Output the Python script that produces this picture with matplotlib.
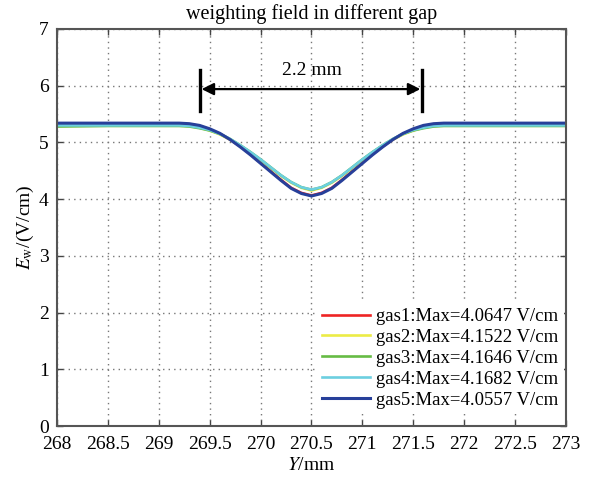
import matplotlib
matplotlib.use('Agg')
import matplotlib.pyplot as plt

plt.rcParams['font.family'] = ['Liberation Serif', 'DejaVu Serif']
plt.rcParams['mathtext.fontset'] = 'stix'

# Field along Y for each gas (V/cm)
y_pos = [268.0, 268.5, 269.0,
         269.2, 269.3, 269.4, 269.5, 269.6, 269.7, 269.8, 269.9, 270.0,
         270.1, 270.2, 270.3, 270.4, 270.5, 270.6, 270.7, 270.8, 270.9,
         271.0, 271.1, 271.2, 271.3, 271.4, 271.5, 271.6, 271.7, 271.8,
         272.0, 272.5, 273.0]

gas1 = [5.33, 5.33, 5.33,
        5.33, 5.32, 5.29, 5.23, 5.15, 5.05, 4.93, 4.79, 4.64,
        4.49, 4.34, 4.20, 4.11, 4.0647, 4.11, 4.20, 4.34, 4.49,
        4.64, 4.79, 4.93, 5.05, 5.15, 5.23, 5.29, 5.32, 5.33,
        5.33, 5.33, 5.33]
gas2 = [5.30, 5.30, 5.30,
        5.30, 5.29, 5.26, 5.21, 5.14, 5.05, 4.94, 4.82, 4.69,
        4.55, 4.41, 4.29, 4.20, 4.1522, 4.20, 4.29, 4.41, 4.55,
        4.69, 4.82, 4.94, 5.05, 5.14, 5.21, 5.26, 5.29, 5.30,
        5.30, 5.30, 5.30]
gas3 = [5.28, 5.29, 5.29,
        5.29, 5.28, 5.25, 5.21, 5.15, 5.06, 4.95, 4.83, 4.70,
        4.56, 4.42, 4.30, 4.21, 4.1646, 4.21, 4.30, 4.42, 4.56,
        4.70, 4.83, 4.95, 5.06, 5.15, 5.21, 5.25, 5.28, 5.29,
        5.29, 5.29, 5.29]
gas4 = [5.30, 5.30, 5.30,
        5.30, 5.29, 5.26, 5.22, 5.15, 5.06, 4.95, 4.83, 4.70,
        4.56, 4.42, 4.30, 4.21, 4.1682, 4.21, 4.30, 4.42, 4.56,
        4.70, 4.83, 4.95, 5.06, 5.15, 5.22, 5.26, 5.29, 5.30,
        5.30, 5.30, 5.30]
gas5 = [5.34, 5.34, 5.34,
        5.34, 5.33, 5.30, 5.24, 5.16, 5.05, 4.92, 4.78, 4.63,
        4.48, 4.33, 4.19, 4.10, 4.0557, 4.10, 4.19, 4.33, 4.48,
        4.63, 4.78, 4.92, 5.05, 5.16, 5.24, 5.30, 5.33, 5.34,
        5.34, 5.34, 5.34]

labels = ['gas1:Max=4.0647 V/cm', 'gas2:Max=4.1522 V/cm',
          'gas3:Max=4.1646 V/cm', 'gas4:Max=4.1682 V/cm',
          'gas5:Max=4.0557 V/cm']
colors = ['#ee2424', '#ecec46', '#66bb44', '#6ccfe0', '#27409a']

x_ticks = [268, 268.5, 269, 269.5, 270, 270.5, 271, 271.5, 272, 272.5, 273]

fig = plt.figure(figsize=(5.95, 4.83), dpi=100)
ax = fig.add_axes([0.096, 0.118, 0.855, 0.822])

for ys, lab, c in zip([gas1, gas2, gas3, gas4, gas5], labels, colors):
    lw = 2.2 if c == colors[-1] else 1.9
    ax.plot(y_pos, ys, color=c, lw=lw, label=lab, solid_joinstyle='round')

ax.set_xlim(268, 273)
ax.set_ylim(0, 7)
ax.set_xticks(x_ticks)
ax.set_xticklabels([f'{t:g}' for t in x_ticks])
ax.set_yticks(range(8))
ax.tick_params(direction='in', length=4, width=1, top=True, right=True,
               labelsize=14, color='#444444')
ax.tick_params(axis='x', pad=7)
ax.tick_params(axis='y', pad=6)
for s in ax.spines.values():
    s.set_linewidth(1.5)
    s.set_color('#555555')
ax.grid(True, linestyle=(0, (1, 3)), color='#777777', lw=1.0)

ax.set_title('weighting field in different gap', fontsize=14.5, pad=7)
ax.set_xlabel(r'$Y$/mm', fontsize=14, labelpad=3)
ax.set_ylabel(r'$E_{\rm w}$/(V/cm)', fontsize=14, labelpad=2)

# gap width marker
ax.plot([269.40, 269.40], [5.55, 6.28], color='black', lw=2.4)
ax.plot([271.59, 271.59], [5.55, 6.28], color='black', lw=2.4)
ax.annotate('', xy=(269.42, 5.94), xytext=(271.57, 5.94),
            arrowprops=dict(arrowstyle='<|-|>', color='black', lw=1.6,
                            mutation_scale=18, shrinkA=0, shrinkB=0))
ax.text(270.5, 6.12, '2.2 mm', ha='center', va='bottom', fontsize=14)

leg = ax.legend(loc='lower right', bbox_to_anchor=(1.0, 0.025), fontsize=13.5,
                frameon=True, fancybox=False, handlelength=2.6,
                handletextpad=0.3, labelspacing=0.2, borderpad=0.3,
                borderaxespad=0.1)
leg.get_frame().set_edgecolor('none')
leg.get_frame().set_facecolor('white')
leg.get_frame().set_alpha(1.0)

fig.savefig('out.png', dpi=100)
